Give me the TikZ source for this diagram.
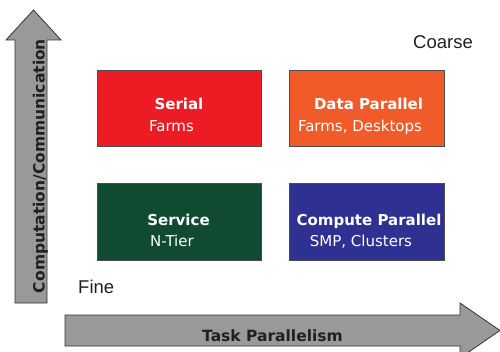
\documentclass[tikz,border=0pt]{standalone}
\usepackage{fontspec}
\setmainfont{DejaVu Sans}
\newfontfamily\arialfont{Liberation Sans}
\definecolor{cred}{HTML}{ED1C24}
\definecolor{corange}{HTML}{F15A29}
\definecolor{cgreen}{HTML}{0F4A31}
\definecolor{cblue}{HTML}{2E3191}
\definecolor{arrowfill}{HTML}{999999}
\definecolor{ink}{HTML}{231F20}
\begin{document}
\begin{tikzpicture}[x=1pt,y=-1pt,
  cell/.style={draw=black!70, line width=0.8pt, minimum height=76pt, anchor=north west, inner sep=0pt},
  celltitle/.style={anchor=base, inner sep=0pt, text=white, font=\bfseries\fontsize{15}{18}\selectfont},
  cellsub/.style={anchor=base, inner sep=0pt, text=white, font=\fontsize{15}{18}\selectfont},
  bigarrow/.style={draw=black!80, fill=arrowfill, line width=0.8pt, line join=miter},
  axislabel/.style={font=\bfseries\fontsize{15.5}{18}\selectfont, text=ink, inner sep=0pt, anchor=base},
  corner/.style={font=\arialfont\fontsize{18.5}{20}\selectfont, text=ink, inner sep=0pt, anchor=base west}
]
\useasboundingbox (0,0) rectangle (500,352);
\clip (0,0) rectangle (500,352);
% vertical arrow
\draw[bigarrow] (15,303) -- (15,40) -- (6,40) -- (33.5,10) -- (61,40) -- (47,40) -- (47,303) -- cycle;
\node[axislabel, rotate=90] (ylab) at (44.5,166) {Computation/Communication};
% horizontal arrow
\draw[bigarrow] (65,315) -- (460,315) -- (460,303) -- (500,330.5) -- (460,358) -- (460,346) -- (65,346) -- cycle;
\node[axislabel] (xlab) at (272.5,341) {Task Parallelism};
% boxes
\node[cell, fill=cred, minimum width=164pt] (serial) at (97,70) {};
\node[cell, fill=corange, minimum width=155pt] (data) at (289,70) {};
\node[cell, fill=cgreen, minimum width=164pt, minimum height=77pt] (service) at (97,183) {};
\node[cell, fill=cblue, minimum width=155pt, minimum height=77pt] (compute) at (289,183) {};
% box texts
\node[celltitle] (serialt) at (179,110) {Serial};
\node[cellsub] (serials) at (171.5,132) {Farms};
\node[celltitle] (datat) at (368.5,110) {Data Parallel};
\node[cellsub] (datas) at (360,132) {Farms, Desktops};
\node[celltitle] (servicet) at (178.5,226) {Service};
\node[cellsub] (services) at (172,247) {N-Tier};
\node[celltitle] (computet) at (369,226) {Compute Parallel};
\node[cellsub] (computes) at (361,247) {SMP, Clusters};
% corner labels
\node[corner] (coarse) at (413,49) {Coarse};
\node[corner] (fine) at (78,294) {Fine};
\end{tikzpicture}
\end{document}
